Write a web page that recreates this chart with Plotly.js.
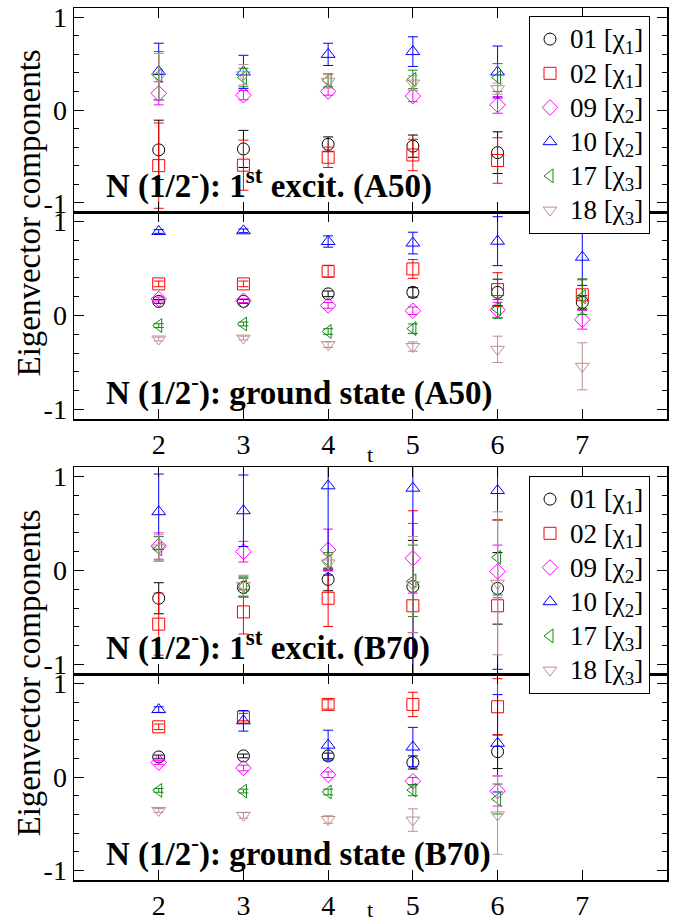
<!DOCTYPE html>
<html>
<head>
<meta charset="utf-8">
<script src="https://cdn.plot.ly/plotly-3.0.1.min.js"></script>
<style>html,body{margin:0;padding:0;background:#fff;}#chart{width:679px;height:922px;}</style>
</head>
<body>
<div id="chart"></div>
<script>
// ---------- data ----------
const seriesNames = ["01 [χ<sub>1</sub>]", "02 [χ<sub>1</sub>]", "09 [χ<sub>2</sub>]", "10 [χ<sub>2</sub>]", "17 [χ<sub>3</sub>]", "18 [χ<sub>3</sub>]"];
const xTickVals = [2, 3, 4, 5, 6, 7];
const yTickVals = [-1, 0, 1];
const yTickText = ["-1", "0", "1"];

const tA50exc = [2, 3, 4, 5, 6];
const tA50gs = [2, 3, 4, 5, 6, 7];
const tB70exc = [2, 3, 4, 5, 6];
const tB70gs = [2, 3, 4, 5, 6];

// A50, 1st excited state
const a50exc_y = [
  [-0.43, -0.42, -0.37, -0.39, -0.46],
  [-0.60, -0.595, -0.51, -0.485, -0.545],
  [0.18, 0.16, 0.20, 0.15, 0.055],
  [0.415, 0.41, 0.60, 0.63, 0.41],
  [0.37, 0.35, 0.32, 0.33, 0.35],
  [0.36, 0.38, 0.31, 0.29, 0.23]
];
const a50exc_e = [
  [0.32, 0.20, 0.08, 0.12, 0.225],
  [0.46, 0.27, 0.11, 0.17, 0.245],
  [0.125, 0.05, 0.04, 0.06, 0.09],
  [0.305, 0.18, 0.12, 0.16, 0.28],
  [0.26, 0.10, 0.07, 0.10, 0.15],
  [0.25, 0.11, 0.07, 0.08, 0.06]
];
// A50, ground state
const a50gs_y = [
  [0.15, 0.15, 0.23, 0.246, 0.246, 0.14],
  [0.336, 0.336, 0.47, 0.495, 0.275, 0.22],
  [0.175, 0.157, 0.107, 0.05, 0.06, -0.045],
  [0.893, 0.90, 0.786, 0.77, 0.79, 0.62],
  [-0.107, -0.09, -0.17, -0.14, 0.07, 0.20],
  [-0.25, -0.24, -0.31, -0.33, -0.36, -0.54]
];
const a50gs_e = [
  [0.02, 0.02, 0.03, 0.05, 0.14, 0.07],
  [0.03, 0.03, 0.06, 0.10, 0.18, 0.16],
  [0.02, 0.02, 0.03, 0.04, 0.08, 0.10],
  [0.02, 0.02, 0.06, 0.115, 0.26, 0.30],
  [0.02, 0.02, 0.03, 0.05, 0.10, 0.19],
  [0.02, 0.02, 0.03, 0.05, 0.14, 0.25]
];
// B70, 1st excited state
const b70exc_y = [
  [-0.295, -0.18, -0.095, -0.17, -0.19],
  [-0.57, -0.44, -0.295, -0.375, -0.375],
  [0.26, 0.20, 0.22, 0.13, -0.01],
  [0.625, 0.635, 0.90, 0.875, 0.85],
  [0.23, -0.17, 0.10, -0.11, 0.14],
  [0.24, -0.16, 0.08, -0.15, -0.136]
];
const b70exc_e = [
  [0.165, 0.10, 0.12, 0.49, 0.38],
  [0.33, 0.235, 0.30, 1.01, 0.91],
  [0.14, 0.11, 0.22, 0.37, 0.28],
  [0.40, 0.38, 0.95, 2.0, 1.9],
  [0.13, 0.11, 0.09, 0.38, 0.40],
  [0.14, 0.11, 0.09, 0.51, 0.76]
];
// B70, ground state
const b70gs_y = [
  [0.214, 0.225, 0.225, 0.155, 0.27],
  [0.536, 0.64, 0.775, 0.775, 0.75],
  [0.154, 0.096, 0.025, -0.045, -0.15],
  [0.72, 0.60, 0.34, 0.32, 0.36],
  [-0.143, -0.15, -0.16, -0.14, -0.235],
  [-0.357, -0.41, -0.454, -0.46, -0.405]
];
const b70gs_e = [
  [0.02, 0.02, 0.03, 0.07, 0.18],
  [0.03, 0.04, 0.05, 0.13, 0.30],
  [0.02, 0.03, 0.03, 0.04, 0.16],
  [0.03, 0.11, 0.16, 0.21, 0.52],
  [0.02, 0.02, 0.03, 0.06, 0.16],
  [0.02, 0.03, 0.04, 0.12, 0.42]
];

const panelLabels = [
  "<b>N (1/2<sup>-</sup>): 1<sup>st</sup> excit. (A50)</b>",
  "<b>N (1/2<sup>-</sup>): ground state (A50)</b>",
  "<b>N (1/2<sup>-</sup>): 1<sup>st</sup> excit. (B70)</b>",
  "<b>N (1/2<sup>-</sup>): ground state (B70)</b>"
];
const yTitle = "Eigenvector components";
const xTitle = "t";

// ---------- styles ----------
const colors = ["#000000", "#ff0000", "#ff00ff", "#0000ff", "#108c10", "#bc8f8f"];
const symbols = ["circle-open", "square-open", "diamond-open", "triangle-up-open", "triangle-left-open", "triangle-down-open"];
const FONT = "Liberation Serif";

const W = 679, H = 922;
const px2x = v => v / W;
const px2y = v => 1 - v / H;
// panel pixel boxes (top, bottom)
const panelsPx = [[8, 212], [212, 419], [467, 674], [674, 880]];
const xDom = [px2x(74), px2x(667)];
// bottom edge (px) of the "t" axis-title boxes for the two pairs
const xTitleBottomPx = [469, 924];

const panelData = [
  {t: tA50exc, y: a50exc_y, e: a50exc_e},
  {t: tA50gs, y: a50gs_y, e: a50gs_e},
  {t: tB70exc, y: b70exc_y, e: b70exc_e},
  {t: tB70gs, y: b70gs_y, e: b70gs_e}
];

const traces = [];
panelData.forEach((pd, p) => {
  const k = p + 1;
  for (let s = 0; s < 6; s++) {
    const showLeg = (p === 0 || p === 2);
    traces.push({
      type: "scatter",
      mode: "markers",
      x: pd.t,
      y: pd.y[s],
      xaxis: k === 1 ? "x" : "x" + k,
      yaxis: k === 1 ? "y" : "y" + k,
      name: '<span style="font-size:27px">' + seriesNames[s] + '</span>',
      showlegend: showLeg,
      legend: p === 2 ? "legend2" : "legend",
      marker: {symbol: symbols[s], size: 12, color: colors[s], line: {width: 1, color: colors[s]}},
      error_y: {type: "data", array: pd.e[s], visible: true, color: colors[s], thickness: 1, width: 5}
    });
  }
});

const layout = {
  width: W, height: H,
  margin: {l: 0, r: 0, t: 0, b: 0},
  paper_bgcolor: "#ffffff",
  plot_bgcolor: "#ffffff",
  font: {family: FONT, color: "#000", size: 24},
  showlegend: true,
  annotations: [],
  shapes: []
};

const legendCommon = {
  font: {family: FONT, size: 24, color: "#000"},
  bgcolor: "#ffffff",
  bordercolor: "#000000",
  borderwidth: 1,
  xanchor: "left", yanchor: "top",
  tracegroupgap: 0,
  itemwidth: 30
};
layout.legend = Object.assign({}, legendCommon, {x: px2x(529), y: px2y(16)});
layout.legend2 = Object.assign({}, legendCommon, {x: px2x(529), y: px2y(476)});

panelsPx.forEach((pp, p) => {
  const k = p + 1;
  const xa = k === 1 ? "xaxis" : "xaxis" + k;
  const ya = k === 1 ? "yaxis" : "yaxis" + k;
  const isBottom = (p === 1 || p === 3);
  layout[xa] = {
    domain: xDom,
    anchor: k === 1 ? "y" : "y" + k,
    range: [1, 8],
    tickvals: xTickVals,
    ticks: "inside", ticklen: 10, tickwidth: 1, tickcolor: "#000",
    showticklabels: isBottom,
    tickfont: {family: FONT, size: 28, color: "#000"},
    showline: true, linecolor: "#000", linewidth: 1.5, mirror: "allticks",
    showgrid: false, zeroline: false,
    title: {text: ""}
  };
  layout[ya] = {
    domain: [px2y(pp[1]), px2y(pp[0])],
    anchor: k === 1 ? "x" : "x" + k,
    range: [-1.1, 1.1],
    tickvals: yTickVals, ticktext: yTickText,
    ticks: "inside", ticklen: 10, tickwidth: 1, tickcolor: "#000",
    minor: {ticks: "inside", ticklen: 5, tickwidth: 1, tickcolor: "#000", dtick: 0.2, tick0: 0, showgrid: false},
    tickfont: {family: FONT, size: 28, color: "#000"},
    showline: true, linecolor: "#000", linewidth: 1.5, mirror: "allticks",
    showgrid: false, zeroline: false
  };
  layout.annotations.push({
    xref: "paper", yref: "paper",
    x: px2x(104), y: px2y(pp[1] - 5),
    xanchor: "left", yanchor: "bottom",
    text: panelLabels[p], showarrow: false,
    font: {family: FONT, size: 33, color: "#000"}
  });
  if (isBottom) {
    layout.annotations.push({
      xref: "paper", yref: "paper",
      x: px2x(370), y: px2y(xTitleBottomPx[p === 1 ? 0 : 1]),
      xanchor: "center", yanchor: "bottom",
      text: xTitle, showarrow: false,
      font: {family: FONT, size: 22, color: "#000"}
    });
  }
});

// y-axis titles (one per pair)
[[8, 419], [467, 880]].forEach(pr => {
  layout.annotations.push({
    xref: "paper", yref: "paper",
    x: px2x(28), y: px2y((pr[0] + pr[1]) / 2),
    xanchor: "center", yanchor: "middle",
    text: yTitle, textangle: -90, showarrow: false,
    font: {family: FONT, size: 33, color: "#000"}
  });
});

Plotly.newPlot("chart", traces, layout, {displayModeBar: false, staticPlot: true});
</script>
</body>
</html>
